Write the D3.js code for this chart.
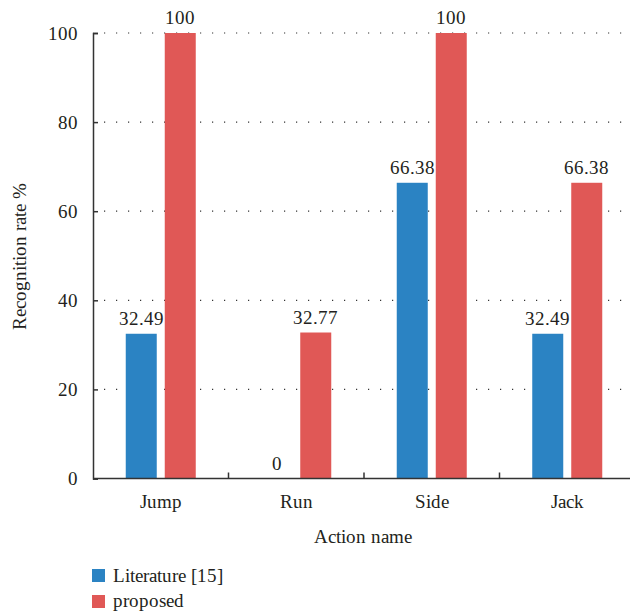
<!DOCTYPE html>
<html><head><meta charset="utf-8">
<script src="https://cdn.jsdelivr.net/npm/d3@7"></script>
<style>
@font-face{font-family:"ChartSerif";src:local("Liberation Serif"),local("LiberationSerif"),local("Liberation Serif Regular"),local("Times New Roman"),local("Tinos");}
</style>
</head><body style="margin:0"><svg id="c" width="630" height="614"></svg>
<script>
const categories = ["Jump","Run","Side","Jack"];
const seriesNames = ["Literature [15]","proposed"];
const literature = [32.49, 0, 66.38, 32.49];
const proposed = [100, 32.77, 100, 66.38];
const labelsLit = ["32.49","0","66.38","32.49"];
const labelsProp = ["100","32.77","100","66.38"];
const yTicks = [0,20,40,60,80,100];
const colors = ["#2b83c3","#e05856"];

const svg = d3.select("#c");
const styleText = sel => sel.style("font-family",'ChartSerif, "Liberation Serif", serif').style("font-size","19px").attr("fill","#231f20");
const mLeft = 93, mRight = 635, mTop = 33, mBottom = 478.5;
const x = d3.scaleBand().domain(categories).range([mLeft,mRight]);
const y = d3.scaleLinear().domain([0,100]).range([mBottom, mTop]);
const barW = 31, gap = 8;

yTicks.filter(t=>t>0).forEach(t=>{
  svg.append("line").attr("x1",mLeft).attr("x2",630).attr("y1",y(t)).attr("y2",y(t))
   .attr("stroke","#333").attr("stroke-width",1.2).attr("stroke-dasharray","1.2,10.8").attr("stroke-dashoffset",-11);
});

const series = [literature, proposed];
const labels = [labelsLit, labelsProp];
series.forEach((vals, si)=>{
  categories.forEach((c,i)=>{
    const cx = x(c) + x.bandwidth()/2;
    const bx = si===0 ? cx - gap/2 - barW : cx + gap/2;
    svg.append("rect").attr("x",bx).attr("y",y(vals[i])).attr("width",barW)
      .attr("height",mBottom - y(vals[i])).attr("fill",colors[si]);
    svg.append("text").attr("x",bx+barW/2).attr("y",y(vals[i])-9)
      .attr("text-anchor","middle").call(styleText).text(labels[si][i]);
  });
});

const ya = svg.append("g").attr("transform",`translate(${mLeft},0)`)
  .call(d3.axisLeft(y).tickValues(yTicks).tickSize(-5).tickPadding(15));
ya.attr("font-family",null).attr("font-size",null);
ya.select(".domain").attr("stroke","#333").attr("stroke-width",1.5);
ya.selectAll(".tick line").attr("stroke","#333").attr("stroke-width",1.5);
ya.selectAll(".tick text").call(styleText);

const xa = svg.append("g").attr("transform",`translate(0,${mBottom})`)
  .call(d3.axisBottom(x).tickSize(0).tickPadding(12));
xa.attr("font-family",null).attr("font-size",null);
xa.select(".domain").remove();
xa.selectAll(".tick text").call(styleText).attr("dy","0.9em");
svg.append("line").attr("x1",mLeft).attr("x2",630).attr("y1",mBottom).attr("y2",mBottom).attr("stroke","#333").attr("stroke-width",1.5);
categories.slice(1).forEach(c=>{
  svg.append("line").attr("x1",x(c)).attr("x2",x(c)).attr("y1",mBottom).attr("y2",mBottom-6)
    .attr("stroke","#333").attr("stroke-width",1.5);
});

svg.append("text").attr("x",363).attr("y",543).attr("text-anchor","middle").call(styleText).text("Action name");
svg.append("text").attr("transform","translate(26,256) rotate(-90)").attr("text-anchor","middle").call(styleText).text("Recognition rate %");

seriesNames.forEach((n,i)=>{
  svg.append("rect").attr("x",92).attr("y",569+i*26).attr("width",13).attr("height",13).attr("fill",colors[i]);
  svg.append("text").attr("x",113).attr("y",582+i*25).call(styleText).text(n);
});
</script></body></html>
